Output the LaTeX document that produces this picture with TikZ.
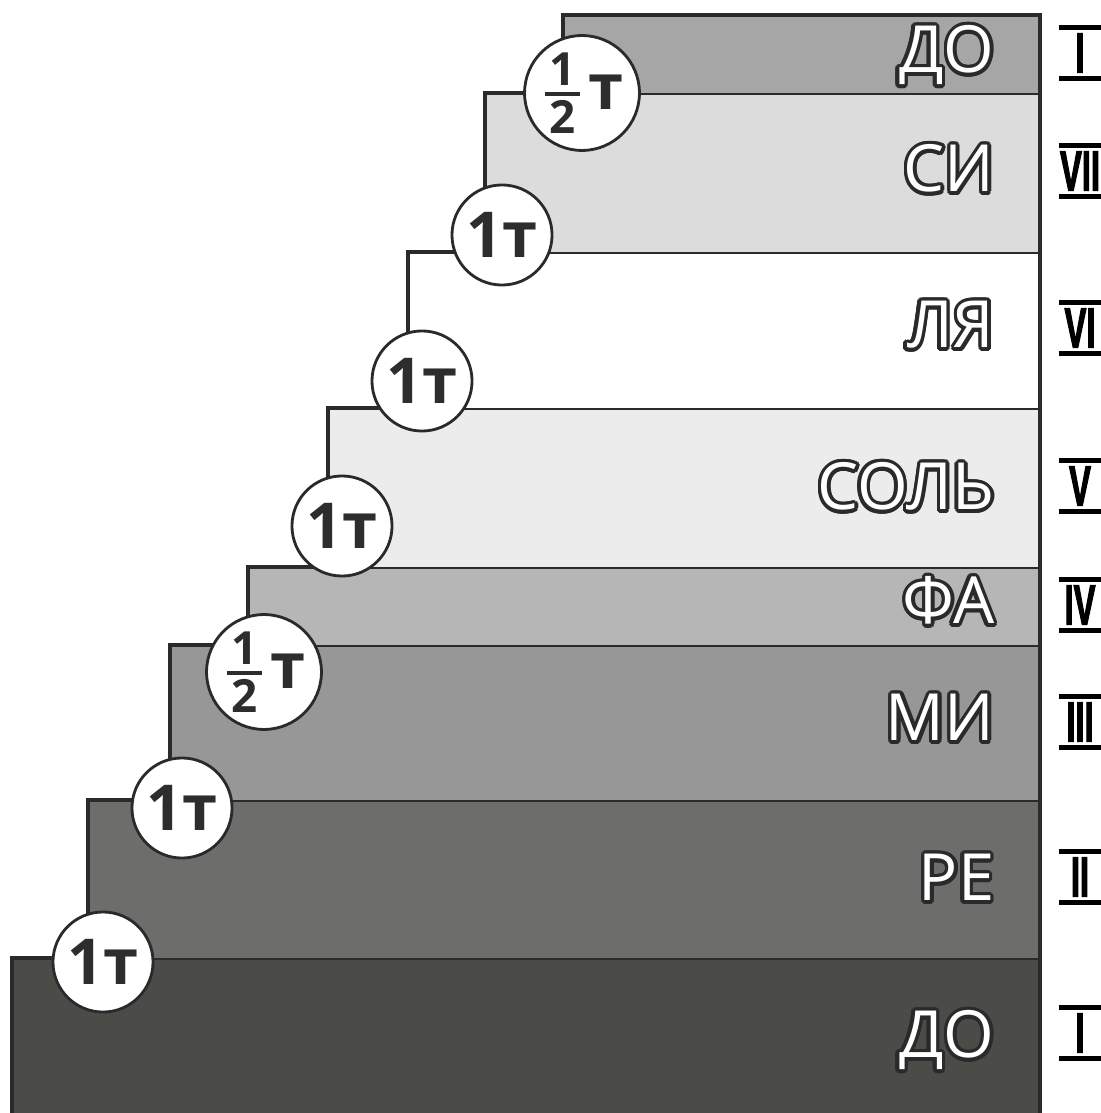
\documentclass[tikz,border=0pt]{standalone}
\usepackage{fontspec}
\usepackage{amsmath}
\usepackage{graphicx}
\usepackage{contour}
\setmainfont{Open Sans}
\newfontfamily\romanfont[BoldFeatures={FakeBold=3}]{Liberation Sans}
\usetikzlibrary{
positioning,
calc
}
\definecolor{StepDOlow}{HTML}{4B4C48}
\definecolor{StepRE}{HTML}{6D6D6B}
\definecolor{StepMI}{HTML}{979797}
\definecolor{StepFA}{HTML}{B6B6B6}
\definecolor{StepSOL}{HTML}{ECECEC}
\definecolor{StepLA}{HTML}{FFFFFF}
\definecolor{StepSI}{HTML}{DCDCDC}
\definecolor{StepDOhigh}{HTML}{A6A6A6}
\definecolor{StepLine}{HTML}{2A2A2A}
\definecolor{ToneText}{HTML}{2D2D2D}
\contourlength{1pt}
\newcommand{\halftone}{$\genfrac{}{}{1.2pt}{1}{\text{\fontsize{13}{13}\selectfont\hbox to 10pt{\hss 1\hss}}}{\text{\fontsize{13}{13}\selectfont\hbox to 10pt{\hss 2\hss}}}$\kern1pt т}
\tikzset{
stepline/.style={draw=StepLine, line width=0.9pt, line join=miter},
notelabel/.style={anchor=east, text=white, inner sep=0pt, text height=13pt, text depth=0pt,
  font=\fontsize{18.5}{20}\selectfont},
tonecircle/.style={circle, draw=StepLine, fill=white, line width=0.8pt, minimum size=1cm,
  inner sep=0pt, text=ToneText, font=\bfseries\fontsize{18}{20}\selectfont},
degree/.style={minimum width=0.4cm, minimum height=0.5cm, inner sep=0pt,
  font=\romanfont\bfseries\fontsize{16}{18}\selectfont},
degreebar/.style={draw=black, line width=1.3pt}
}

\begin{document}
\begin{tikzpicture}[x=0.01cm, y=-0.01cm]
\useasboundingbox (0,0) rectangle (1101,1113);

\foreach \l/\t/\b/\c in {12/958/1113/StepDOlow, 88/800/958/StepRE, 170/645/800/StepMI,
  248/567/645/StepFA, 328/408/567/StepSOL, 408/252/408/StepLA, 485/93/252/StepSI,
  563/15/93/StepDOhigh}
\draw[stepline, fill=\c] (\l,\b) -- (\l,\t) -- (1040,\t) -- (1040,\b);
\draw[stepline, line width=1.4pt] (1040,15) -- (1040,1113);

\node[notelabel] (dolow) at (995,1035) {\contour{StepLine}{ДО}};
\node[notelabel] (re) at (995,878) {\contour{StepLine}{РЕ}};
\node[notelabel] (mi) at (995,718) {\contour{StepLine}{МИ}};
\node[notelabel] (fa) at (995,601) {\contour{StepLine}{ФА}};
\node[notelabel] (sol) at (995,487) {\contour{StepLine}{СОЛЬ}};
\node[notelabel] (la) at (995,325) {\contour{StepLine}{ЛЯ}};
\node[notelabel] (si) at (995,169) {\contour{StepLine}{СИ}};
\node[notelabel] (dohigh) at (995,50) {\contour{StepLine}{ДО}};

\node[tonecircle] (t1) at (103,962) {1т};
\node[tonecircle] (t2) at (182,808) {1т};
\node[tonecircle] (t3) at (264,672) {\halftone};
\node[tonecircle] (t4) at (342,526) {1т};
\node[tonecircle] (t5) at (422,381) {1т};
\node[tonecircle] (t6) at (502,235) {1т};
\node[tonecircle] (t7) at (582,93) {\halftone};

\foreach \n/\r/\y in {d1/I/1033, d2/II/877, d3/III/722, d4/IV/605, d5/V/486,
  d6/VI/328, d7/VII/171, d8/I/53}
{
\node[degree] (\n) at (1080,\y) {\scalebox{0.58}[1]{\r}};
\draw[degreebar] (\n.north west) -- (\n.north east);
\draw[degreebar] (\n.south west) -- (\n.south east);
}
\end{tikzpicture}
\end{document}
